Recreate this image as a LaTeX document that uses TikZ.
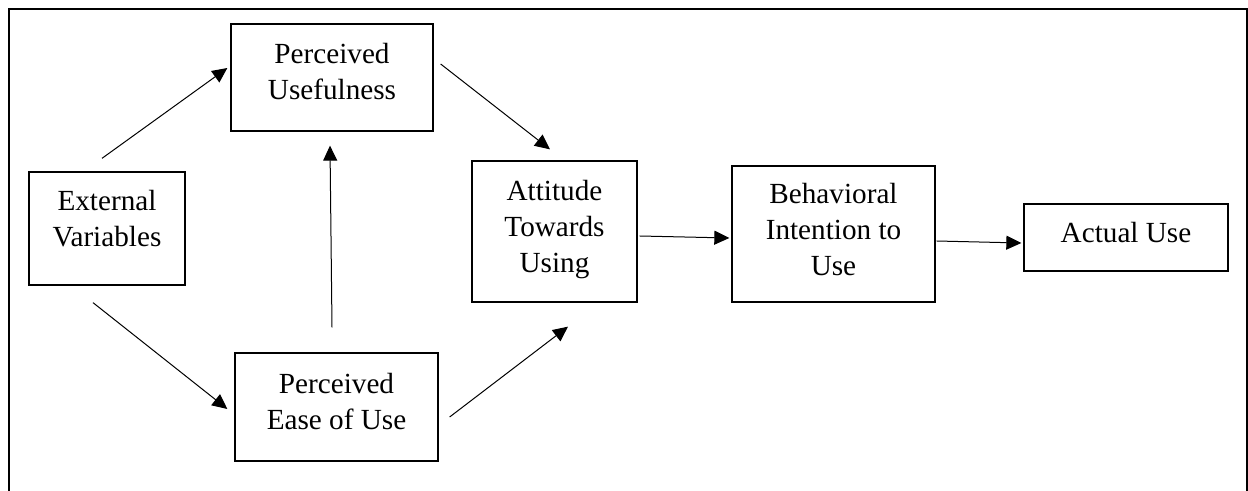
\documentclass[tikz,border=0pt]{standalone}
\usepackage{fontspec}
\setmainfont{Liberation Serif}
\usetikzlibrary{arrows.meta}
\begin{document}
\begin{tikzpicture}[x=0.5pt,y=-0.5pt,
  box/.style={draw=black, line width=0.65pt, inner sep=0pt, rectangle},
  lbl/.style={font=\fontsize{14.6pt}{18pt}\selectfont, align=center, inner sep=0pt},
  arr/.style={line width=0.5pt, -{Triangle[length=7.5pt,width=7pt]}}]
\useasboundingbox (0,0) rectangle (1248,491);
\draw[line width=1.1pt] (9,491) -- (9,9) -- (1247,9) -- (1247,491);
% boxes
\node[box, minimum width=78pt, minimum height=56.5pt] (ext) at (107,228.5) {};
\node[box, minimum width=101pt, minimum height=53.5pt] (pu) at (332,77.5) {};
\node[box, minimum width=101.5pt, minimum height=54pt] (peu) at (336.5,407) {};
\node[box, minimum width=82.5pt, minimum height=70.5pt] (atu) at (554.5,231.5) {};
\node[box, minimum width=101.5pt, minimum height=68pt] (bi) at (833.5,234) {};
\node[box, minimum width=102pt, minimum height=33.5pt] (au) at (1126,237.5) {};
% labels
\node[lbl] (extt) at ([yshift=5pt]ext.center) {External\\Variables};
\node[lbl] (put) at ([yshift=3pt]pu.center) {Perceived\\Usefulness};
\node[lbl] (peut) at ([yshift=2.5pt]peu.center) {Perceived\\Ease of Use};
\node[lbl] (atut) at ([yshift=1pt]atu.center) {Attitude\\Towards\\Using};
\node[lbl] (bit) at ([yshift=2pt]bi.center) {Behavioral\\Intention to\\Use};
\node[lbl] (aut) at ([yshift=2.5pt]au.center) {Actual Use};
% connectors
\draw[arr] ([shift={(-5,-13)}]ext.north) -- ([shift={(-3,-9.5)}]pu.west);
\draw[arr] ([shift={(-14,17)}]ext.south) -- ([shift={(-7,2)}]peu.west);
\draw[arr] ([shift={(-4.5,-25)}]peu.north) -- ([shift={(-2,14)}]pu.south);
\draw[arr] ([shift={(7,-13.5)}]pu.east) -- ([shift={(-4.5,-11)}]atu.north);
\draw[arr] ([shift={(11,10)}]peu.east) -- ([shift={(13.5,24)}]atu.south);
\draw[arr] ([shift={(2,4.5)}]atu.east) -- ([shift={(-2,4)}]bi.west);
\draw[arr] ([shift={(1,7)}]bi.east) -- ([shift={(-2,5.5)}]au.west);
\end{tikzpicture}
\end{document}
